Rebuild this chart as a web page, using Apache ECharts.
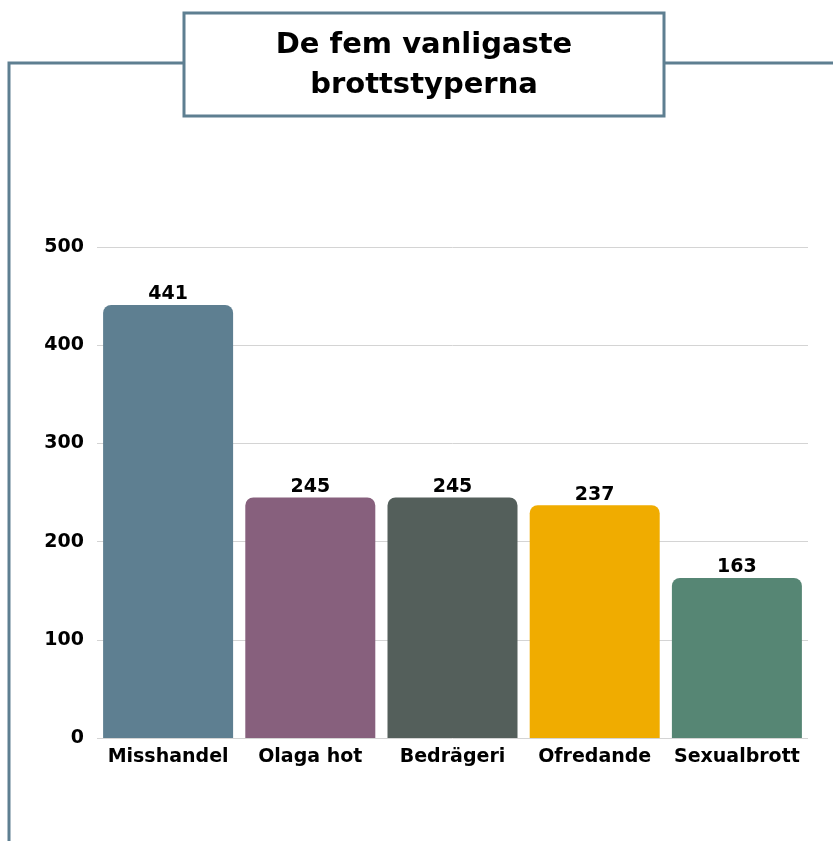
<!DOCTYPE html>
<html>
<head>
<meta charset="utf-8">
<script src="https://cdn.jsdelivr.net/npm/echarts@6/dist/echarts.min.js"></script>
<style>
  html, body { margin: 0; padding: 0; background: #fff; }
  #chart { width: 833px; height: 841px; }
</style>
</head>
<body>
<div id="chart"></div>
<script>
// Données du graphique
const categories = ['Misshandel', 'Olaga hot', 'Bedrägeri', 'Ofredande', 'Sexualbrott'];
const values = [441, 245, 245, 237, 163];
const barColors = ['#5e7f91', '#87607d', '#545f5b', '#f0ac00', '#568674'];
const titleLines = ['De fem vanligaste', 'brottstyperna'];

const frameColor = '#5e7f91';
const chart = echarts.init(document.getElementById('chart'));

const option = {
    animation: false,
    backgroundColor: '#fff',
    graphic: [
        // Cadre : ligne gauche et ligne du haut
        {
            type: 'polyline',
            shape: { points: [[9, 841], [9, 63], [184, 63]] },
            style: { stroke: frameColor, lineWidth: 3, fill: null }
        },
        {
            type: 'line',
            shape: { x1: 664, y1: 63, x2: 833, y2: 63 },
            style: { stroke: frameColor, lineWidth: 3 }
        },
        // Boîte du titre
        {
            type: 'rect',
            shape: { x: 184, y: 13, width: 480, height: 103 },
            style: { fill: '#fff', stroke: frameColor, lineWidth: 3 }
        },
        {
            type: 'text',
            x: 424, y: 65,
            style: {
                text: titleLines.join('\n'),
                align: 'center',
                verticalAlign: 'middle',
                font: 'bold 29px "DejaVu Sans"',
                lineHeight: 40,
                fill: '#000'
            }
        }
    ],
    grid: { left: 97, right: 25, top: 247, bottom: 103 },
    xAxis: {
        type: 'category',
        data: categories,
        axisLine: { show: false },
        axisTick: { show: false },
        axisLabel: {
            interval: 0,
            color: '#000',
            fontFamily: 'DejaVu Sans',
            fontWeight: 'bold',
            fontSize: 19,
            margin: 10
        }
    },
    yAxis: {
        type: 'value',
        min: 0,
        max: 500,
        interval: 100,
        axisLine: { show: false },
        axisTick: { show: false },
        splitLine: { lineStyle: { color: '#d4d4d4', width: 1 } },
        axisLabel: {
            color: '#000',
            fontFamily: 'DejaVu Sans',
            fontWeight: 'bold',
            fontSize: 19,
            margin: 13,
            padding: [3, 0, 0, 0]
        }
    },
    series: [{
        type: 'bar',
        data: values.map((v, i) => ({ value: v, itemStyle: { color: barColors[i] } })),
        barWidth: 130,
        itemStyle: { borderRadius: [8, 8, 0, 0] },
        label: {
            show: true,
            position: 'top',
            color: '#000',
            fontFamily: 'DejaVu Sans',
            fontWeight: 'bold',
            fontSize: 19,
            distance: 1
        }
    }]
};

chart.setOption(option);
</script>
</body>
</html>
